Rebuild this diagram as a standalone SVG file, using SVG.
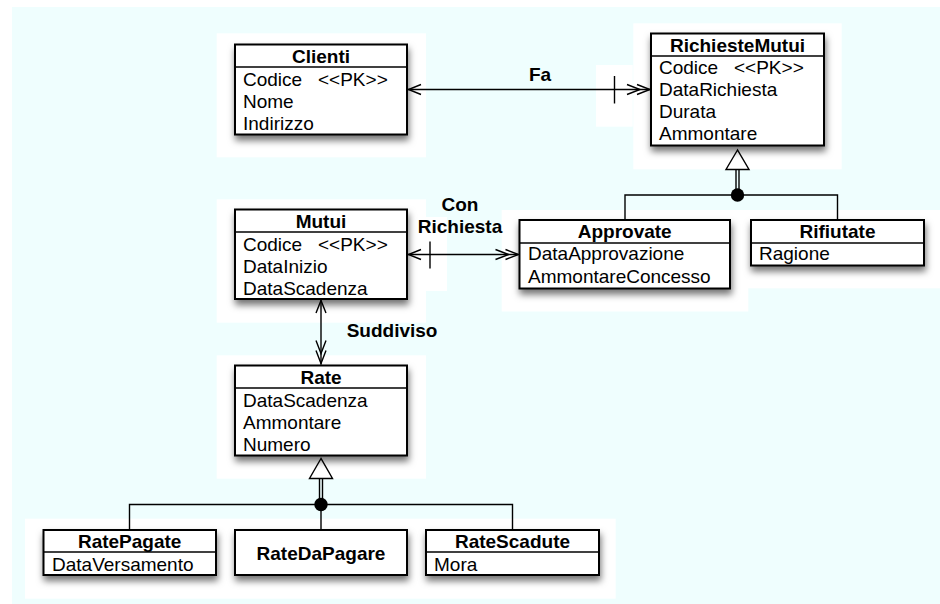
<svg xmlns="http://www.w3.org/2000/svg" width="940" height="604" viewBox="0 0 940 604">
<style>
.box{fill:#fff;stroke:#000;stroke-width:2;filter:url(#sh)}
.sep{stroke:#000;stroke-width:1.5}
.t{font-family:"Liberation Sans",Arial,Helvetica,sans-serif;font-size:19px;fill:#000}
.b{font-weight:bold;text-anchor:middle}
.ln{fill:none;stroke:#000;stroke-width:1.4}
.patch{fill:#fff}
</style>
<defs>
<filter id="sh" x="-10%" y="-20%" width="130%" height="160%">
<feDropShadow dx="1" dy="5" stdDeviation="3.5" flood-color="#000" flood-opacity="0.55"/>
</filter>
</defs>
<rect x="0" y="0" width="940" height="604" fill="#fff"/>
<rect x="12" y="7" width="928" height="597" fill="#effefe"/>
<g id="patches">
<rect class="patch" x="216.7" y="33.3" width="209.3" height="124"/>
<rect class="patch" x="216.7" y="199.3" width="209.3" height="123.4"/>
<rect class="patch" x="410" y="217" width="37" height="74"/>
<rect class="patch" x="216.7" y="355.3" width="209.3" height="123.4"/>
<rect class="patch" x="25" y="518.7" width="590.7" height="80"/>
<rect class="patch" x="633.3" y="23.3" width="208.4" height="146"/>
<rect class="patch" x="596" y="65" width="36.7" height="61.7"/>
<rect class="patch" x="501.7" y="210" width="246.6" height="101.5"/>
<rect class="patch" x="733" y="210" width="207" height="78.3"/>
</g>
<g id="connectors">
<!-- Fa -->
<line class="ln" x1="408" y1="89.5" x2="650" y2="89.5"/>
<polyline class="ln" points="421,84.5 408.5,89.5 421,94.5"/>
<line class="ln" x1="614.5" y1="76" x2="614.5" y2="103.5"/>
<polyline class="ln" points="637,84.5 650,89.5 637,94.5"/>
<polyline class="ln" points="627,84.5 640,89.5 627,94.5"/>
<text class="t b" x="540" y="81">Fa</text>
<!-- Con Richiesta -->
<line class="ln" x1="408" y1="254.5" x2="518.5" y2="254.5"/>
<polyline class="ln" points="421,249.5 408.5,254.5 421,259.5"/>
<line class="ln" x1="430" y1="241.5" x2="430" y2="268.5"/>
<polyline class="ln" points="505.5,249.5 518.5,254.5 505.5,259.5"/>
<polyline class="ln" points="495.5,249.5 508.5,254.5 495.5,259.5"/>
<text class="t b" x="460" y="210.7">Con</text>
<text class="t b" x="460" y="233.3">Richiesta</text>
<!-- Suddiviso -->
<line class="ln" x1="321" y1="300" x2="321" y2="364.5"/>
<polyline class="ln" points="316,313 321,300.5 326,313"/>
<polyline class="ln" points="316,350.5 321,363.5 326,350.5"/>
<polyline class="ln" points="316,340.5 321,353.5 326,340.5"/>
<text class="t" x="346.7" y="337" font-weight="bold">Suddiviso</text>
<!-- Generalization RichiesteMutui -->
<polygon points="737.5,150 726,169.5 749,169.5" fill="#fff" stroke="#000" stroke-width="1.4"/>
<line class="ln" x1="736" y1="169.5" x2="736" y2="195"/>
<line class="ln" x1="739" y1="169.5" x2="739" y2="195"/>
<polyline class="ln" points="625,220 625,195 837.5,195 837.5,220"/>
<circle cx="737.5" cy="195" r="6.7" fill="#000"/>
<!-- Generalization Rate -->
<polygon points="321,458.5 309.5,478.5 332.5,478.5" fill="#fff" stroke="#000" stroke-width="1.4"/>
<line class="ln" x1="319.5" y1="478.5" x2="319.5" y2="504.5"/>
<line class="ln" x1="322.5" y1="478.5" x2="322.5" y2="504.5"/>
<polyline class="ln" points="129.5,530 129.5,504.5 512.5,504.5 512.5,530"/>
<line class="ln" x1="321" y1="504.5" x2="321" y2="530"/>
<circle cx="321" cy="504.5" r="6.7" fill="#000"/>
</g>
<g id="clienti">
<rect class="box" x="235" y="44.5" width="172" height="90"/>
<line class="sep" x1="235" y1="67" x2="407" y2="67"/>
<text class="t b" x="321" y="63">Clienti</text>
<text class="t" x="243" y="86">Codice</text><text class="t" x="318" y="86">&lt;&lt;PK&gt;&gt;</text>
<text class="t" x="243" y="108">Nome</text>
<text class="t" x="243" y="130">Indirizzo</text>
</g>
<g id="richiestemutui">
<rect class="box" x="651" y="33.5" width="173" height="112"/>
<line class="sep" x1="651" y1="56" x2="824" y2="56"/>
<text class="t b" x="737.5" y="52">RichiesteMutui</text>
<text class="t" x="659" y="74">Codice</text><text class="t" x="734" y="74">&lt;&lt;PK&gt;&gt;</text>
<text class="t" x="659" y="96">DataRichiesta</text>
<text class="t" x="659" y="118">Durata</text>
<text class="t" x="659" y="140">Ammontare</text>
</g>
<g id="mutui">
<rect class="box" x="235" y="209.5" width="172" height="89.5"/>
<line class="sep" x1="235" y1="232" x2="407" y2="232"/>
<text class="t b" x="321" y="228">Mutui</text>
<text class="t" x="243" y="250.5">Codice</text><text class="t" x="318" y="250.5">&lt;&lt;PK&gt;&gt;</text>
<text class="t" x="243" y="272.5">DataInizio</text>
<text class="t" x="243" y="294.5">DataScadenza</text>
</g>
<g id="approvate">
<rect class="box" x="519.5" y="220" width="210.5" height="68.5"/>
<line class="sep" x1="519.5" y1="243" x2="730" y2="243"/>
<text class="t b" x="624.7" y="238">Approvate</text>
<text class="t" x="528" y="260">DataApprovazione</text>
<text class="t" x="528" y="282.5">AmmontareConcesso</text>
</g>
<g id="rifiutate">
<rect class="box" x="751" y="220" width="173" height="45.5"/>
<line class="sep" x1="751" y1="243" x2="924" y2="243"/>
<text class="t b" x="837.5" y="238">Rifiutate</text>
<text class="t" x="759" y="260">Ragione</text>
</g>
<g id="rate">
<rect class="box" x="235" y="365.5" width="172" height="90"/>
<line class="sep" x1="235" y1="388" x2="407" y2="388"/>
<text class="t b" x="321" y="384">Rate</text>
<text class="t" x="243" y="407">DataScadenza</text>
<text class="t" x="243" y="429">Ammontare</text>
<text class="t" x="243" y="451">Numero</text>
</g>
<g id="ratepagate">
<rect class="box" x="43.5" y="530" width="172.5" height="45"/>
<line class="sep" x1="43.5" y1="552" x2="216" y2="552"/>
<text class="t b" x="129.7" y="548">RatePagate</text>
<text class="t" x="52" y="570.5">DataVersamento</text>
</g>
<g id="ratedapagare">
<rect class="box" x="235" y="530" width="172" height="45"/>
<text class="t b" x="321" y="560">RateDaPagare</text>
</g>
<g id="ratescadute">
<rect class="box" x="426" y="530" width="173" height="45"/>
<line class="sep" x1="426" y1="552" x2="599" y2="552"/>
<text class="t b" x="512.5" y="548">RateScadute</text>
<text class="t" x="434" y="570.5">Mora</text>
</g>
</svg>
